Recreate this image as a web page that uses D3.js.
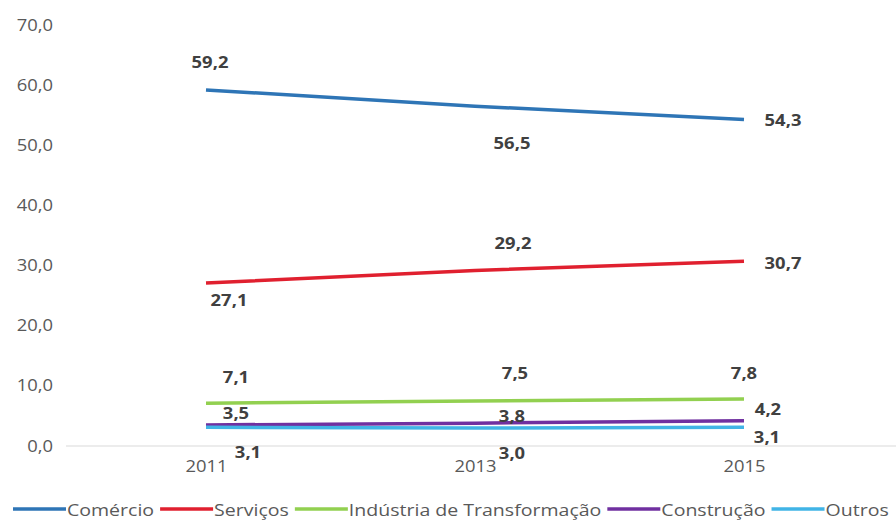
<!DOCTYPE html>
<html>
<head>
<meta charset="utf-8">
<script src="https://cdn.jsdelivr.net/npm/d3@7/dist/d3.min.js"></script>
<style>
  html, body { margin: 0; padding: 0; background: #ffffff; }
  svg { display: block; font-family: "Open Sans", "Noto Sans", sans-serif; }
</style>
</head>
<body>
<svg id="chart" width="896" height="521"></svg>
<script>
// Participação por setor (%)
const years = ["2011", "2013", "2015"];
const seriesNames = ["Comércio", "Serviços", "Indústria de Transformação", "Construção", "Outros"];
const comercio = [59.2, 56.5, 54.3];
const servicos = [27.1, 29.2, 30.7];
const industria = [7.1, 7.5, 7.8];
const construcao = [3.5, 3.8, 4.2];
const outros = [3.1, 3.0, 3.1];
const yTicks = [0, 10, 20, 30, 40, 50, 60, 70];

const seriesValues = [comercio, servicos, industria, construcao, outros];
const colors = ["#2e75b6", "#e0202f", "#92d050", "#7030a0", "#41b4e6"];

// Offsets (px) of each value label from its point, per series and year
const labelOffsets = [
  [[4, -28], [37, 37], [39, 1]],
  [[23, 17], [38, -27], [39, 2]],
  [[30, -26], [40, -28], [0, -26]],
  [[30, -12], [37, -7], [24, -12]],
  [[42, 25], [37, 25], [23, 10]]
];

// Text is drawn slightly widened
const STRETCH = 1.15;

const fmt = v => d3.format(".1f")(v).replace(".", ",");

const svg = d3.select("#chart");

const x = d3.scalePoint().domain(years).range([206, 744]);
const y = d3.scaleLinear().domain([0, 70]).range([446, 25]);

// Baseline
svg.append("line")
  .attr("x1", 66).attr("x2", 896)
  .attr("y1", y(0)).attr("y2", y(0))
  .attr("stroke", "#d9d9d9").attr("stroke-width", 1);

// Y axis labels
const yAxis = d3.axisLeft(y).tickValues(yTicks).tickFormat(fmt).tickSize(0).tickPadding(0);
const gy = svg.append("g").attr("transform", "translate(53,0)").call(yAxis);
gy.select(".domain").remove();
gy.selectAll("text")
  .attr("fill", "#595959").attr("font-size", 16)
  .attr("font-family", "\"Open Sans\", sans-serif")
  .attr("transform", `scale(${STRETCH},1)`);

// X axis labels
const xAxis = d3.axisBottom(x).tickSize(0).tickPadding(0);
const gx = svg.append("g").attr("transform", "translate(0,461)").call(xAxis);
gx.select(".domain").remove();
gx.selectAll("text")
  .attr("fill", "#595959").attr("font-size", 16)
  .attr("font-family", "\"Open Sans\", sans-serif")
  .attr("transform", `scale(${STRETCH},1)`);

// Lines
const line = d3.line().x((d, i) => x(years[i])).y(d => y(d));
seriesValues.forEach((vals, s) => {
  svg.append("path")
    .datum(vals)
    .attr("d", line)
    .attr("fill", "none")
    .attr("stroke", colors[s])
    .attr("stroke-width", 3.5)
    .attr("stroke-linecap", "butt");
});

// Value labels
seriesValues.forEach((vals, s) => {
  svg.append("g").selectAll("text")
    .data(vals)
    .join("text")
    .attr("transform", (d, i) =>
      `translate(${x(years[i]) + labelOffsets[s][i][0]},${y(d) + labelOffsets[s][i][1]}) scale(${STRETCH},1)`)
    .attr("text-anchor", "middle")
    .attr("dominant-baseline", "central")
    .attr("font-size", 16)
    .attr("font-weight", "bold")
    .attr("fill", "#404040")
    .text(d => fmt(d));
});

// Legend
const legend = svg.append("g").attr("transform", "translate(13,509)");
let cx = 0;
seriesNames.forEach((name, s) => {
  legend.append("line")
    .attr("x1", cx).attr("x2", cx + 53)
    .attr("y1", 0).attr("y2", 0)
    .attr("stroke", colors[s]).attr("stroke-width", 3.5);
  const t = legend.append("text")
    .attr("transform", `translate(${cx + 54},0) scale(${STRETCH},1)`)
    .attr("dominant-baseline", "central")
    .attr("font-size", 17)
    .attr("fill", "#595959")
    .text(name);
  cx += 54 + t.node().getComputedTextLength() * STRETCH + 6;
});
</script>
</body>
</html>
